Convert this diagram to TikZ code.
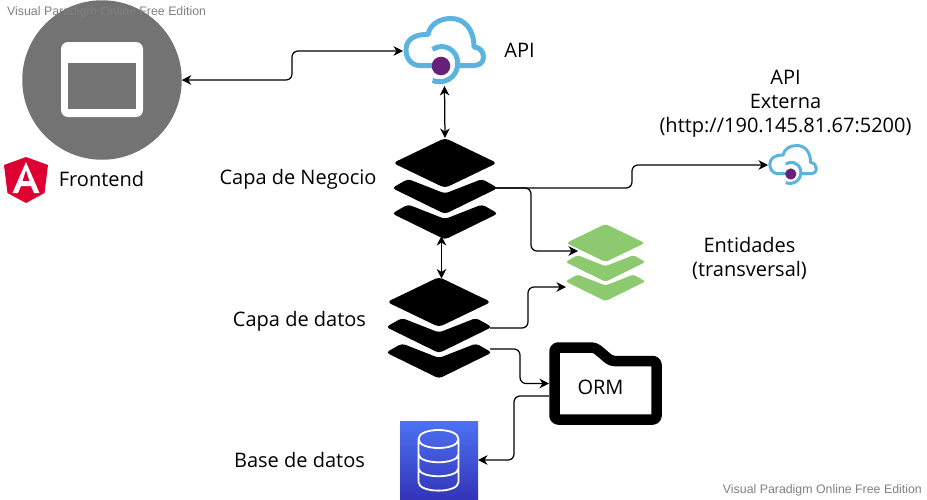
\documentclass[tikz,border=0pt]{standalone}
\usepackage{fontspec}
\setmainfont{Open Sans}
\newfontfamily\wmfont{Liberation Sans}
\usetikzlibrary{arrows.meta}
\definecolor{cloudblue}{HTML}{5AB4DF}
\definecolor{dotpurple}{HTML}{68217A}
\definecolor{stackgreen}{HTML}{8CC96F}
\definecolor{frontgray}{HTML}{737373}
\definecolor{angred}{HTML}{DD0031}
\definecolor{dbtop}{HTML}{4D72F3}
\definecolor{dbbot}{HTML}{3334B9}
\tikzset{
  x=1pt,y=-1pt,
  conn/.style={line width=1.25pt,rounded corners=6pt,-{Stealth[length=9.5pt,width=9.5pt,inset=3pt]}},
  bothconn/.style={line width=1.25pt,{Stealth[length=9.5pt,width=9.5pt,inset=3pt]}-{Stealth[length=9.5pt,width=9.5pt,inset=3pt]}},
  plain/.style={inner sep=0pt,outer sep=0pt,draw=none},
  lbl/.style={inner sep=0pt,font=\fontsize{20}{24}\selectfont,align=center,text=black},
  wm/.style={inner sep=0pt,font=\wmfont\fontsize{12.35}{14}\selectfont,text=black!50},
  pics/stack/.style={code={
    \fill[#1,rounded corners=4pt] (0,0) -- (52,25) -- (0,50) -- (-52,25) -- cycle;
    \fill[#1,rounded corners=3.5pt] (-53,50) -- (-37,41) -- (0,55.5) -- (37,41) -- (53,50) -- (0,76) -- cycle;
    \fill[#1,rounded corners=3.5pt] (-53,75.5) -- (-37,66.5) -- (0,81) -- (37,66.5) -- (53,75.5) -- (0,101.5) -- cycle;
  }},
  pics/cloudicon/.style={code={
    \draw[cloudblue,line width=#1,line cap=butt,line join=round]
      (30,49.5) -- (17,49.5) .. controls (8,49.5) and (3,42) .. (3,34)
      .. controls (3,24) and (11,18) .. (25,18.5)
      .. controls (27,8) and (37,2.5) .. (48,2.5)
      .. controls (62,2.5) and (71,14) .. (71,31)
      .. controls (77,31) and (80.5,36) .. (80.5,41)
      .. controls (80.5,47) and (76,49.5) .. (70,49.5) -- (56,49.5);
    \draw[cloudblue,line width=#1]
      (29.5,33.5) .. controls (37,28) and (50,30) .. (54,42)
      .. controls (58,56) and (46,70) .. (29.5,64.5);
    \fill[dotpurple] (38,50) circle (9.3);
  }}
}
\begin{document}
\begin{tikzpicture}
\useasboundingbox (0,0) rectangle (927,499);
% frontend icon
\node[plain,circle,fill=frontgray,minimum size=159.5pt] (front) at (102,80) {};
\node[plain,fill=white,rounded corners=7pt,minimum width=82pt,minimum height=75pt] (win) at (102,79.5) {};
\node[plain,fill=frontgray,minimum width=68pt,minimum height=46pt] (winin) at (102,86) {};
% angular logo
\node[plain,minimum width=44pt,minimum height=46pt] (ang) at (26,180) {};
\fill[angred] (26,157) -- (48,165) -- (44.5,193) -- (26,203) -- (7.5,193) -- (4,165) -- cycle;
\fill[white,even odd rule] (26,162) -- (39.5,193) -- (34,193) -- (31,186) -- (21,186) -- (18,193) -- (12.5,193) -- cycle
  (26,170) -- (29.5,181) -- (22.5,181) -- cycle;
% API clouds
\node[plain,minimum width=83pt,minimum height=70pt] (api) at (444.5,51) {};
\pic at (403,16) {cloudicon=5pt};
\node[plain,minimum width=50pt,minimum height=41pt] (ext) at (793,165) {};
\begin{scope}[shift={(768,144)},x=0.6pt,y=-0.6pt]
  \draw[cloudblue,line width=3pt,line join=round]
      (30,49.5) -- (17,49.5) .. controls (8,49.5) and (3,42) .. (3,34)
      .. controls (3,24) and (11,18) .. (25,18.5)
      .. controls (27,8) and (37,2.5) .. (48,2.5)
      .. controls (62,2.5) and (71,14) .. (71,31)
      .. controls (77,31) and (80.5,36) .. (80.5,41)
      .. controls (80.5,47) and (76,49.5) .. (70,49.5) -- (56,49.5);
  \draw[cloudblue,line width=3pt]
      (29.5,33.5) .. controls (37,28) and (50,30) .. (54,42)
      .. controls (58,56) and (46,70) .. (29.5,64.5);
  \fill[dotpurple] (38,50) circle (5.6pt);
\end{scope}
% stacks
\node[plain,minimum width=102pt,minimum height=100pt] (neg) at (445,188) {};
\pic at (445,138) {stack=black};
\node[plain,minimum width=102pt,minimum height=101pt] (dat) at (439,328) {};
\pic at (439,277) {stack=black};
\node[plain,minimum width=77pt,minimum height=77pt] (ent) at (605.5,262.5) {};
\begin{scope}[shift={(605.5,224)},x=0.755pt,y=-0.76pt]
  \fill[stackgreen,rounded corners=3pt] (0,0) -- (52,25) -- (0,50) -- (-52,25) -- cycle;
  \fill[stackgreen,rounded corners=2.5pt] (-53,50) -- (-37,41) -- (0,55.5) -- (37,41) -- (53,50) -- (0,76) -- cycle;
  \fill[stackgreen,rounded corners=2.5pt] (-53,75.5) -- (-37,66.5) -- (0,81) -- (37,66.5) -- (53,75.5) -- (0,101.5) -- cycle;
\end{scope}
% ORM folder
\node[plain,minimum width=113pt,minimum height=83pt] (orm) at (605.5,383.5) {};
\draw[black,line width=10.5pt,fill=white,line join=round,rounded corners=3.5pt]
  (554.5,347.5) -- (595,347.5) -- (611,361) -- (656.5,361) -- (656.5,419.5) -- (554.5,419.5) -- cycle;
\node[lbl] (ormt) at (600.5,387) {ORM};
% database
\node[plain,minimum width=78pt,minimum height=78pt,top color=dbtop,bottom color=dbbot] (db) at (439,460) {};
\draw[white,line width=1.8pt]
  (418.5,439) -- (418.5,482) .. controls (418.5,493.5) and (458.5,493.5) .. (458.5,482) -- (458.5,439)
  (418.5,439) .. controls (418.5,427) and (458.5,427) .. (458.5,439)
  .. controls (458.5,451) and (418.5,451) .. (418.5,439)
  (418.5,454) .. controls (418.5,465) and (458.5,465) .. (458.5,454)
  (418.5,468) .. controls (418.5,479) and (458.5,479) .. (458.5,468);
% labels
\node[lbl] (tapi) at (519.5,50.5) {API};
\node[lbl] (text) at (785.5,104) {API\\[0pt]Externa\\[0pt](http://190.145.81.67:5200)};
\node[lbl] (tfront) at (101.5,179) {Frontend};
\node[lbl] (tneg) at (298,179.5) {Capa de Negocio};
\node[lbl] (tent) at (749.5,258) {Entidades\\[0pt](transversal)};
\node[lbl] (tdat) at (299.5,321.5) {Capa de datos};
\node[lbl] (tdb) at (299.5,459.5) {Base de datos};
% connector ports
\coordinate (entA) at (578,251);
\coordinate (entB) at (566,287);
\coordinate (datLow) at (490,349);
\coordinate (ormLow) at (549,396);
% connectors
\draw[bothconn,rounded corners=6pt] (front.east) -- (292,80) -- (292,51) -- (api.west);
\draw[bothconn] (api.south) -- (neg.north);
\draw[bothconn] ([xshift=-3.5pt,yshift=2pt]neg.south) -- ([xshift=2.5pt,yshift=-1pt]dat.north);
\draw[conn] (neg.east) -- (632,188) -- (632,165) -- (ext.west);
\draw[conn] (neg.east) -- (531,188) -- (531,251) -- (entA);
\draw[conn] (dat.east) -- (528,328) -- (528,287) -- (entB);
\draw[conn] (datLow) -- (520,349) -- (520,383.5) -- (orm.west);
\draw[conn] (ormLow) -- (514,396) -- (514,460) -- (db.east);
% watermarks
\node[wm,anchor=west] (wm1) at (7,12) {Visual Paradigm Online Free Edition};
\node[wm,anchor=east] (wm2) at (922,490) {Visual Paradigm Online Free Edition};
\end{tikzpicture}
\end{document}
